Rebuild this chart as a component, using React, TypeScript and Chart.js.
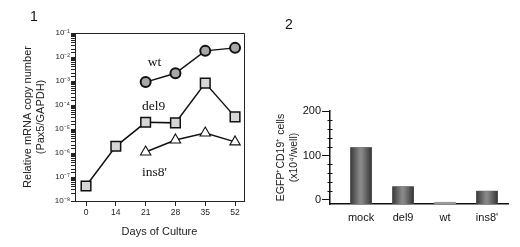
import React, { useEffect, useRef } from 'react';
import { Chart, registerables } from 'chart.js';
Chart.register(...registerables);

// ---------- Panel 1 data ----------
const dayLabels = ['0', '14', '21', '28', '35', '52'];
const wtIdx = [2, 3, 4, 5];
const wtValues = [9e-4, 2.1e-3, 1.8e-2, 2.4e-2];
const del9Idx = [0, 1, 2, 3, 4, 5];
const del9Values = [4.2e-8, 1.9e-6, 1.9e-5, 1.8e-5, 8.2e-4, 3.2e-5];
const ins8Idx = [2, 3, 4, 5];
const ins8Values = [1.1e-6, 3.5e-6, 6.8e-6, 2.9e-6];
const seriesNames = ['wt', 'del9', "ins8'"];

// ---------- Panel 2 data ----------
const barCategories = ['mock', 'del9', 'wt', "ins8'"];
const barValues = [118, 30, -5, 20];
const barAxisMin = -9;
const barAxisMax = 200;

const SANS = "'Liberation Sans', Arial, sans-serif";
const SERIF = "'Liberation Serif', 'Times New Roman', serif";

const supMap: Record<string, string> = {
  '-': '⁻', '0': '⁰', '1': '¹', '2': '²', '3': '³', '4': '⁴',
  '5': '⁵', '6': '⁶', '7': '⁷', '8': '⁸', '9': '⁹',
};
const sup = (n: number) => String(n).split('').map((c) => supMap[c] || c).join('');

const toPts = (idx: number[], vals: number[]) => idx.map((x, i) => ({ x, y: vals[i] }));

const boxPlugin = {
  id: 'boxPlugin',
  afterDraw(chart: any) {
    const { ctx, chartArea: a } = chart;
    ctx.save();
    ctx.strokeStyle = '#222';
    ctx.lineWidth = 1;
    ctx.beginPath();
    ctx.moveTo(a.left, a.top + 0.5);
    ctx.lineTo(a.right + 0.5, a.top + 0.5);
    ctx.lineTo(a.right + 0.5, a.bottom);
    ctx.stroke();
    ctx.restore();
  },
};

const panel1Labels = {
  id: 'panel1Labels',
  afterDatasetsDraw(chart: any) {
    const { ctx, scales } = chart;
    const anchors = [
      { x: 2.07, y: 6.2e-3 },
      { x: 1.88, y: 8.3e-5 },
      { x: 1.88, y: 1.6e-7 },
    ];
    ctx.save();
    ctx.fillStyle = '#111';
    ctx.font = `13.5px ${SERIF}`;
    ctx.textAlign = 'left';
    ctx.textBaseline = 'middle';
    seriesNames.forEach((name, i) => {
      ctx.fillText(name, scales.x.getPixelForValue(anchors[i].x), scales.y.getPixelForValue(anchors[i].y));
    });
    ctx.font = `14px ${SANS}`;
    ctx.textAlign = 'center';
    ctx.fillText('1', 34, 17);
    ctx.restore();
  },
};

const barPlugin = {
  id: 'barPlugin',
  afterDatasetsDraw(chart: any) {
    const { ctx } = chart;
    const meta = chart.getDatasetMeta(0);
    ctx.save();
    meta.data.forEach((el: any, i: number) => {
      if (barValues[i] < 0) return;
      const { x, y, base, width } = el.getProps(['x', 'y', 'base', 'width'], true);
      const g = ctx.createLinearGradient(x - width / 2, 0, x + width / 2, 0);
      g.addColorStop(0, '#3a3a3a');
      g.addColorStop(0.45, '#8a8a8a');
      g.addColorStop(0.55, '#858585');
      g.addColorStop(1, '#363636');
      ctx.fillStyle = g;
      ctx.fillRect(x - width / 2, Math.min(y, base), width, Math.abs(base - y));
    });
    // minor ticks on y axis
    const ys = chart.scales.y;
    const left = chart.chartArea.left;
    ctx.strokeStyle = '#111';
    ctx.lineWidth = 1;
    for (let v = 20; v < barAxisMax; v += 20) {
      if (v % 100 === 0) continue;
      const py = Math.round(ys.getPixelForValue(v)) + 0.5;
      ctx.beginPath();
      ctx.moveTo(left - 2.5, py);
      ctx.lineTo(left + 2.5, py);
      ctx.stroke();
    }
    ctx.fillStyle = '#111';
    ctx.font = `14px ${SANS}`;
    ctx.textAlign = 'center';
    ctx.textBaseline = 'middle';
    ctx.fillText('2', 29, 25);
    ctx.restore();
  },
};

export default function App() {
  const c1 = useRef<HTMLCanvasElement>(null);
  const c2 = useRef<HTMLCanvasElement>(null);

  useEffect(() => {
    const lineBase = {
      type: 'line' as const,
      borderColor: '#111',
      borderWidth: 1.5,
      fill: false,
      tension: 0,
    };
    const chart1 = new Chart(c1.current as HTMLCanvasElement, {
      type: 'line',
      data: {
        datasets: [
          {
            ...lineBase,
            label: seriesNames[0],
            data: toPts(wtIdx, wtValues),
            pointStyle: 'circle',
            pointRadius: 5,
            pointBackgroundColor: '#a8a8a8',
            pointBorderColor: '#111',
            pointBorderWidth: 2,
          },
          {
            ...lineBase,
            label: seriesNames[1],
            data: toPts(del9Idx, del9Values),
            pointStyle: 'rect',
            pointRadius: 6.8,
            pointBackgroundColor: '#d6d6d6',
            pointBorderColor: '#111',
            pointBorderWidth: 1.5,
          },
          {
            ...lineBase,
            label: seriesNames[2],
            data: toPts(ins8Idx, ins8Values),
            pointStyle: 'triangle',
            pointRadius: 6,
            pointBackgroundColor: '#ffffff',
            pointBorderColor: '#111',
            pointBorderWidth: 1.1,
          },
        ],
      } as any,
      options: {
        responsive: false,
        animation: false,
        events: [],
        layout: { padding: { top: 33, right: 16, left: 0, bottom: 0 } },
        plugins: { legend: { display: false }, tooltip: { enabled: false } },
        scales: {
          x: {
            type: 'linear',
            min: -0.37,
            max: 5.3,
            afterFit: (s: any) => { s.height = 46; },
            border: { color: '#222', width: 1 },
            grid: { drawOnChartArea: false, drawTicks: true, tickLength: 5, color: '#222' },
            ticks: {
              stepSize: 1,
              includeBounds: false,
              padding: 2,
              color: '#222',
              font: { size: 8.5, family: SANS },
              callback: (v: any) => (Number.isInteger(v) && dayLabels[v] !== undefined ? dayLabels[v] : ''),
            },
            title: {
              display: true,
              text: 'Days of Culture',
              color: '#222',
              font: { size: 11, family: SANS },
              padding: { top: 0, bottom: 8 },
            },
          },
          y: {
            type: 'logarithmic',
            min: 1e-8,
            max: 1e-1,
            afterFit: (s: any) => { s.width = 75; },
            border: { color: '#222', width: 1 },
            grid: { drawOnChartArea: false, drawTicks: true, tickLength: 4, color: '#222' },
            ticks: {
              autoSkip: false,
              padding: 1,
              color: '#222',
              font: { size: 8, family: SANS },
              callback: (v: any) => {
                const l = Math.log10(Number(v));
                const r = Math.round(l);
                return Math.abs(l - r) < 1e-6 ? '10' + sup(r) : '';
              },
            },
            title: {
              display: true,
              text: ['Relative mRNA copy number', '(Pax5/GAPDH)'],
              color: '#222',
              font: { size: 11, family: SANS, lineHeight: 1.2 },
              padding: { top: 21, bottom: 0 },
            },
          },
        },
      } as any,
      plugins: [boxPlugin, panel1Labels],
    });

    const chart2 = new Chart(c2.current as HTMLCanvasElement, {
      type: 'bar',
      data: {
        datasets: [
          {
            data: barValues.map((y, x) => ({ x, y })),
            base: barAxisMin,
            backgroundColor: barValues.map((v) => (v < 0 ? '#9a9a9a' : '#555555')),
            borderWidth: 0,
            barThickness: 21,
          },
        ],
      } as any,
      options: {
        responsive: false,
        animation: false,
        events: [],
        layout: { padding: { top: 111, right: 12, left: 0, bottom: 0 } },
        plugins: { legend: { display: false }, tooltip: { enabled: false } },
        scales: {
          x: {
            type: 'linear',
            min: -0.74,
            max: 3.5,
            offset: false,
            afterFit: (s: any) => { s.height = 43; },
            border: { color: '#111', width: 1.5 },
            grid: { display: false, drawTicks: false },
            ticks: {
              stepSize: 1,
              includeBounds: false,
              padding: 7,
              color: '#111',
              font: { size: 11, family: SANS },
              callback: (v: any) => (Number.isInteger(v) && barCategories[v] !== undefined ? barCategories[v] : ''),
            },
          },
          y: {
            min: barAxisMin,
            max: barAxisMax,
            afterFit: (s: any) => { s.width = 70; },
            border: { color: '#111', width: 1.5 },
            grid: {
              drawOnChartArea: false,
              drawTicks: true,
              tickLength: 8,
              tickColor: (ctx: any) => (ctx.tick && ctx.tick.value % 100 === 0 ? '#111' : 'rgba(0,0,0,0)'),
            },
            ticks: {
              stepSize: 20,
              includeBounds: false,
              autoSkip: false,
              padding: 1,
              color: '#111',
              font: { size: 11, family: SANS },
              callback: (v: any) => (Number(v) % 100 === 0 ? String(v) : ''),
            },
            title: {
              display: true,
              text: ['EGFP⁺CD19⁺ cells', '(x10⁴/well)'],
              color: '#222',
              font: { size: 10.5, family: SANS, lineHeight: 1.2 },
              padding: { top: 15, bottom: 0 },
            },
          },
        },
      } as any,
      plugins: [barPlugin],
    });

    return () => {
      chart1.destroy();
      chart2.destroy();
    };
  }, []);

  return (
    <div style={{ position: 'fixed', left: 0, top: 0, width: 520, height: 247, background: '#fff' }}>
      <div style={{ position: 'absolute', left: 0, top: 0, width: 260, height: 247 }}>
        <canvas ref={c1} width={260} height={247} />
      </div>
      <div style={{ position: 'absolute', left: 260, top: 0, width: 260, height: 247 }}>
        <canvas ref={c2} width={260} height={247} />
      </div>
    </div>
  );
}
